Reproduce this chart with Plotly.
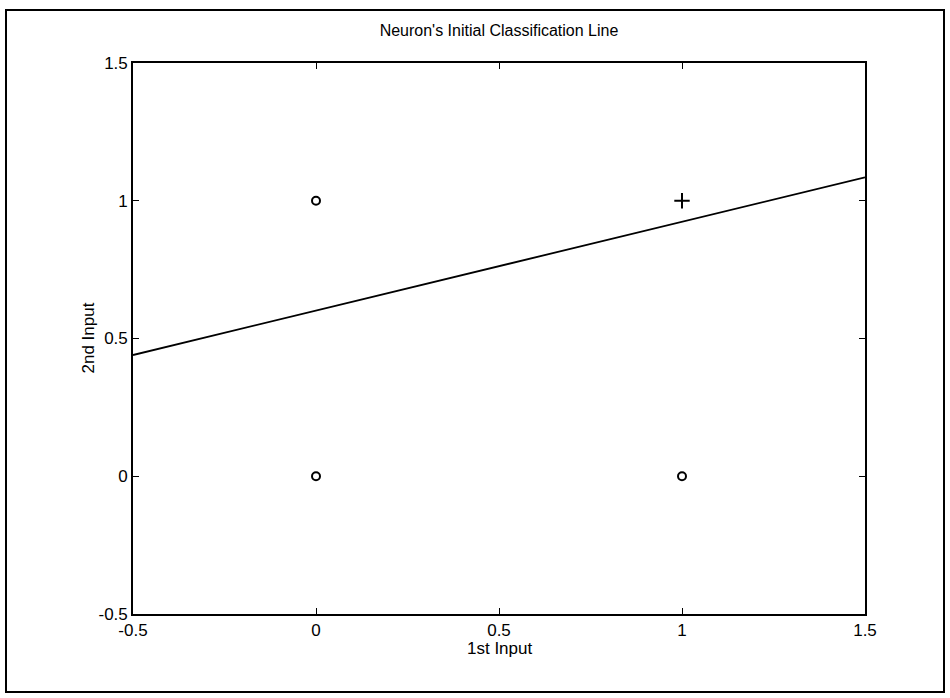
import plotly.graph_objects as go

# Data
circle_x = [0, 0, 1]
circle_y = [1, 0, 0]
plus_x = [1]
plus_y = [1]
line_x = [-0.5, 1.5]
line_y = [0.44, 1.085]
tick_vals = [-0.5, 0, 0.5, 1, 1.5]
tick_text = ["-0.5", "0", "0.5", "1", "1.5"]

W, H = 950, 698
L, R, T, B = 133, 865, 63, 614
pw, ph = R - L, B - T

def px(x):
    return (x - L) / pw

def py(y):
    return (B - y) / ph

FONT = "Liberation Sans, Arial, Helvetica, sans-serif"

fig = go.Figure()
fig.add_trace(go.Scatter(x=line_x, y=line_y, mode="lines",
                         line=dict(color="black", width=1.8), showlegend=False))
fig.add_trace(go.Scatter(x=circle_x, y=circle_y, mode="markers",
                         marker=dict(symbol="circle-open", size=8, color="black",
                                     line=dict(width=2)), showlegend=False))
fig.add_trace(go.Scatter(x=plus_x, y=plus_y, mode="markers",
                         marker=dict(symbol="cross-thin-open", size=11, color="black",
                                     line=dict(width=2, color="black")), showlegend=False))

axis_common = dict(range=[-0.5, 1.5], tickvals=tick_vals, ticktext=tick_text,
                   showgrid=False, zeroline=False, showline=True, linecolor="black",
                   linewidth=1.6, mirror="ticks", ticks="inside", ticklen=6,
                   tickcolor="black", tickwidth=1,
                   tickfont=dict(family=FONT, size=17, color="black"))

fig.update_layout(
    width=W, height=H,
    margin=dict(l=L, r=W - R, t=T, b=H - B, autoexpand=False),
    paper_bgcolor="white", plot_bgcolor="white",
    xaxis=axis_common,
    yaxis=axis_common,
    font=dict(family=FONT, color="black"),
    title=dict(text="Neuron's Initial Classification Line", x=0.5, xref="paper",
               y=1 - 30 / H, yref="container", xanchor="center", yanchor="middle",
               font=dict(family=FONT, size=16, color="black")),
    annotations=[
        dict(text="1st Input", xref="paper", yref="paper", x=0.5, y=py(648),
             xanchor="center", yanchor="middle", showarrow=False,
             font=dict(family=FONT, size=17, color="black")),
        dict(text="2nd Input", xref="paper", yref="paper", x=px(88), y=0.5,
             xanchor="center", yanchor="middle", showarrow=False, textangle=-90,
             font=dict(family=FONT, size=17, color="black")),
    ],
    shapes=[
        dict(type="rect", xref="paper", yref="paper",
             x0=px(6), x1=px(944), y0=py(692), y1=py(10),
             line=dict(color="black", width=2), fillcolor="rgba(0,0,0,0)", layer="below"),
    ],
)

fig.write_html("out.html")
